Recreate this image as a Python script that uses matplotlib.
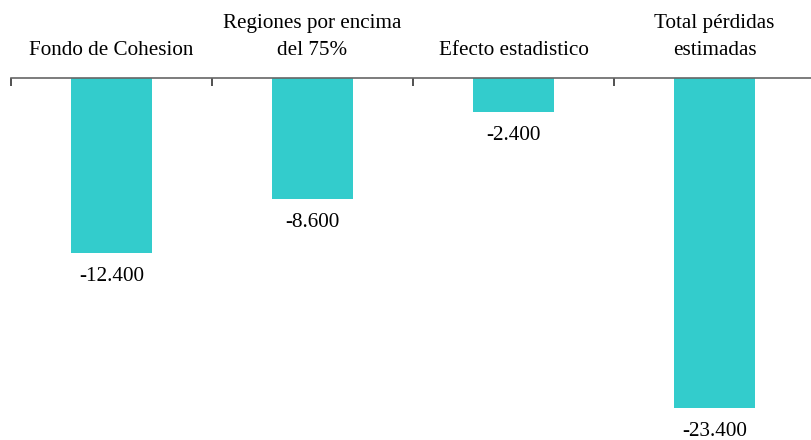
import matplotlib
matplotlib.use("Agg")
import matplotlib.pyplot as plt

categories = ["Fondo de Cohesion", "Regiones por encima\ndel 75%",
              "Efecto estadistico", "Total pérdidas\nestimadas"]
values = [-12.4, -8.6, -2.4, -23.4]
value_labels = ["-12.400", "-8.600", "-2.400", "-23.400"]

plt.rcParams['font.family'] = ['Liberation Serif', 'DejaVu Serif']

fig = plt.figure(figsize=(8.11, 4.40), dpi=100)
ax = fig.add_axes([11 / 811, 0.0, 804 / 811, 1 - 78 / 440])

x = list(range(len(categories)))
ax.bar(x, values, width=0.4, color="#33CCCC")
ax.set_xlim(-0.5, len(categories) - 0.5)
ax.set_ylim(-25.67, 0)

for xi, v, lab in zip(x, values, value_labels):
    ax.annotate(lab, (xi, v), xytext=(0, -10), textcoords="offset points",
                ha="center", va="top", fontsize=15.2)

for xi, c in zip(x, categories):
    ax.annotate(c, (xi, 0), xytext=(0, 13), textcoords="offset points",
                ha="center", va="bottom", fontsize=15.2, linespacing=1.55)

for s in ["bottom", "left", "right"]:
    ax.spines[s].set_visible(False)
ax.spines["top"].set_color("#666666")
ax.spines["top"].set_linewidth(1.2)
ax.spines["top"].set_clip_on(False)
ax.set_yticks([])
ax.xaxis.tick_top()
ax.set_xticks([i - 0.5 for i in x])
ax.set_xticklabels([])
ax.tick_params(axis="x", direction="in", length=6, color="#333333", width=1.2)

fig.savefig("out.png", dpi=100)
